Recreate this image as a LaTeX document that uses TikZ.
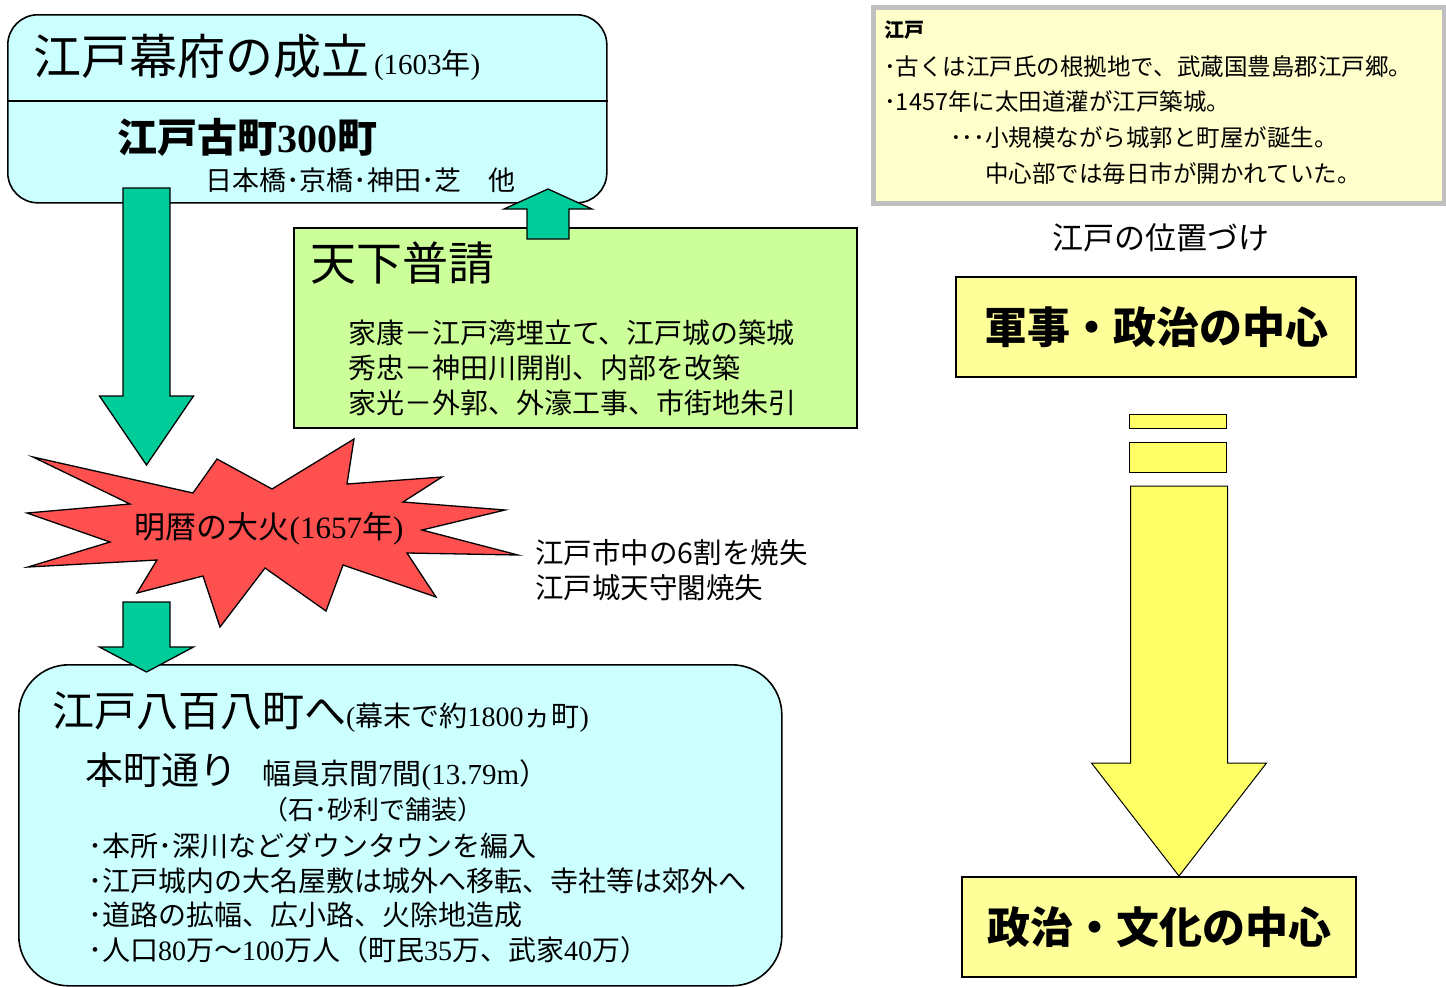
\documentclass[tikz,border=0pt]{standalone}
\usepackage{fontspec}
\setmainfont{Noto Sans CJK JP}
\newfontfamily\srf{Liberation Serif}
\usetikzlibrary{positioning}
\definecolor{edoCyan}{RGB}{204,255,255}
\definecolor{fushinGreen}{RGB}{204,255,153}
\definecolor{arrowTeal}{RGB}{0,204,153}
\definecolor{fireRed}{RGB}{255,80,80}
\definecolor{noteYellow}{RGB}{255,255,204}
\definecolor{noteGray}{RGB}{192,192,192}
\definecolor{roleYellow}{RGB}{255,255,153}
\definecolor{shiftYellow}{RGB}{255,255,102}
\newcommand\fsz[1]{\fontsize{#1}{#1}\selectfont}
% block arrow: style, x, shaft end, head base, tip, half shaft, half head
\newcommand\blockarrow[7]{%
  \draw[#1] (#2-#6,#3) -- (#2+#6,#3) -- (#2+#6,#4) -- (#2+#7,#4)
    -- (#2,#5) -- (#2-#7,#4) -- (#2-#6,#4) -- cycle;}

\begin{document}
\begin{tikzpicture}[x=1pt, y=-1pt,
cyanbox/.style={draw, line width=1.6pt, fill=edoCyan},
greenbox/.style={draw, line width=1.6pt, fill=fushinGreen},
notebox/.style={draw=noteGray, line width=5pt, fill=noteYellow},
rolebox/.style={draw, line width=1.6pt, fill=roleYellow, inner sep=0},
tealarrow/.style={draw, line width=1.3pt, fill=arrowTeal, line join=miter},
shiftarrow/.style={draw, line width=1pt, fill=shiftYellow},
burst/.style={draw, line width=1.3pt, fill=fireRed, line join=miter},
txt/.style={anchor=west, inner sep=0}]

\useasboundingbox (0,0) rectangle (1446,986);

% boxes
\node[cyanbox, rounded corners=30, minimum width=599, minimum height=188,
  anchor=north west] (edo) at (7,14) {};
\draw[line width=1.6pt] (edo.west |- 0,101) -- (edo.east |- 0,101);
\node[greenbox, minimum width=563, minimum height=200,
  anchor=north west] (fushin) at (293,227) {};
\node[notebox, minimum width=571, minimum height=196,
  anchor=north west] (note) at (870.5,4.5) {};

% arrows on the left
\blockarrow{tealarrow}{548}{239}{209}{189}{21}{44}
\blockarrow{tealarrow}{146.5}{188}{396}{465}{23.5}{47}

% great fire
\draw[burst] (33,457) -- (193,493) -- (217,459) -- (272,489) -- (354,439)
  -- (347,484) -- (442,477) -- (403,502) -- (505,510) -- (422,530)
  -- (518,555) -- (407,553) -- (436,597) -- (343,565) -- (326,611)
  -- (265,568) -- (220,627) -- (203,576) -- (137,593) -- (157,560)
  -- (28,567) -- (110,542) -- (27,513) -- (130,504) -- cycle;
\node (fire) at (269,529) {\fsz{31}明暦の大火{\srf(1657}年{\srf)}};
\node[txt, align=left, font=\fontsize{28.5}{35}\selectfont] (loss) at (535,570)
  {江戸市中の6割を焼失\\江戸城天守閣焼失};

\node[cyanbox, rounded corners=50, minimum width=763, minimum height=321,
  anchor=north west] (hachi) at (18,664) {};
\blockarrow{tealarrow}{146.5}{602}{647}{672}{23.5}{47}

% right column
\node (place) at (1161,238) {\fsz{31}江戸の位置づけ};
\node[rolebox, minimum width=400, minimum height=100] (military) at (1156,327)
  {\bfseries\fsz{43}軍事・政治の中心};
\node[rolebox, minimum width=394, minimum height=100] (culture) at (1159,927)
  {\bfseries\fsz{43}政治・文化の中心};
\draw[shiftarrow] (1129,414) rectangle (1226,428);
\draw[shiftarrow] (1129,442) rectangle (1226,472);
\blockarrow{shiftarrow}{1179}{486}{763}{876}{48.5}{87.5}

% texts
\node[txt] (title) at (33,57)
  {\fsz{48}江戸幕府の成立{\fsz{29}\srf\,(1603{\normalfont 年})}};
\node[txt] (komachi) at (117,137) {\bfseries\fsz{40}江戸古町{\srf 300}町};
\node[txt] (places) at (205,180) {\fsz{27}日本橋･京橋･神田･芝　他};

\node[txt] (tenka) at (310,263) {\fsz{46}天下普請};
\node[txt, align=left, font=\fontsize{28}{35}\selectfont] (works) at (348,368)
  {家康－江戸湾埋立て、江戸城の築城\\
   秀忠－神田川開削、内部を改築\\
   家光－外郭、外濠工事、市街地朱引};

\node[txt] (noteHead) at (884,30) {\bfseries\fsz{20}江戸};
\node[txt] (note1) at (884,67) {\fsz{23.5}･古くは江戸氏の根拠地で、武蔵国豊島郡江戸郷。};
\node[txt] (note2) at (884,102) {\fsz{23.5}･1457年に太田道灌が江戸築城。};
\node[txt] (note3) at (950,138) {\fsz{23.5}･･･小規模ながら城郭と町屋が誕生。};
\node[txt] (note4) at (985,174) {\fsz{23.5}中心部では毎日市が開かれていた。};

\node[txt] (hachiTitle) at (52,712)
  {\fsz{42}江戸八百八町へ{\fsz{28}{\srf(}幕末で約{\srf 1800}ヵ町{\srf)}}};
\node[txt] (honcho) at (85,770) {\fsz{38}本町通り};
\node[txt] (width) at (262,775) {\fsz{29}幅員京間{\srf 7}間{\srf(13.79m}）};
\node[txt] (paved) at (262,810) {\fsz{26}（石･砂利で舗装）};
\node[txt, align=left, font=\fontsize{28}{34.7}\selectfont] (changes) at (88,898)
  {･本所･深川などダウンタウンを編入\\
   ･江戸城内の大名屋敷は城外へ移転、寺社等は郊外へ\\
   ･道路の拡幅、広小路、火除地造成\\
   ･人口{\srf 80}万～{\srf 100}万人（町民{\srf 35}万、武家{\srf 40}万）};
\end{tikzpicture}
\end{document}
